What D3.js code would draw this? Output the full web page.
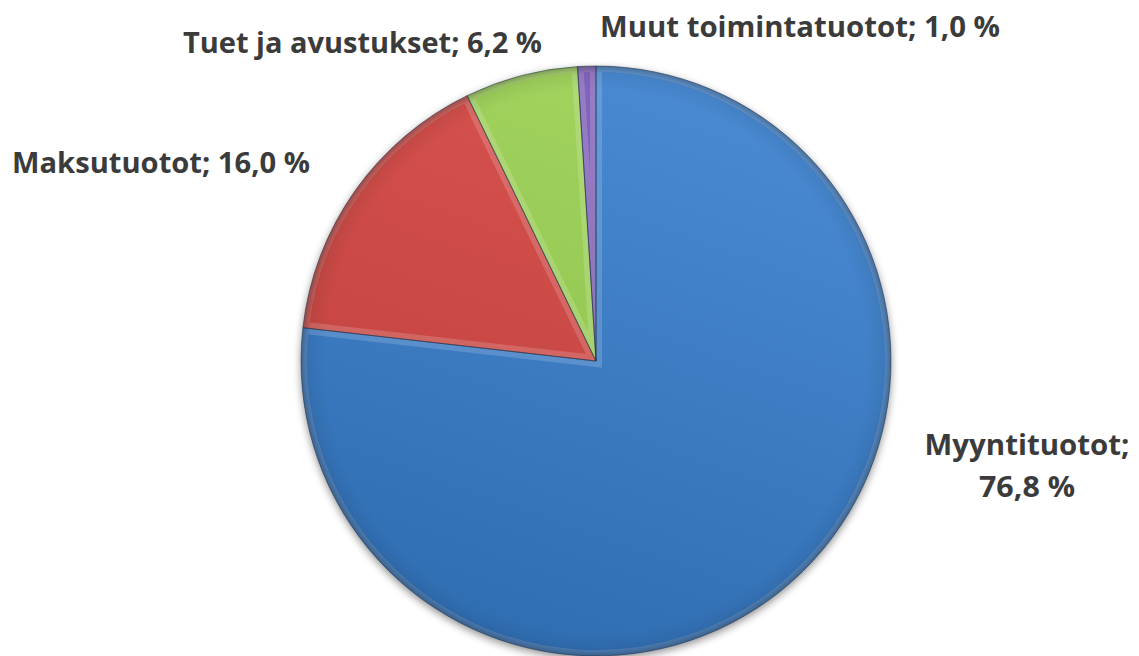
<!DOCTYPE html>
<html><head><meta charset="utf-8">
<script src="https://cdn.jsdelivr.net/npm/d3@7"></script>
<style>html,body{margin:0;padding:0;background:#fff;}svg{display:block;}</style>
</head><body>
<script>
const categories = ["Myyntituotot", "Maksutuotot", "Tuet ja avustukset", "Muut toimintatuotot"];
const values = [76.8, 16.0, 6.2, 1.0];
const labelTexts = [["Myyntituotot;", "76,8 %"], ["Maksutuotot; 16,0 %"], ["Tuet ja avustukset; 6,2 %"], ["Muut toimintatuotot; 1,0 %"]];
const colorsTop = ["#4a8bd4", "#d9534f", "#a3d55f", "#8566bf"];
const colorsBottom = ["#2f6db2", "#bd403d", "#88be48", "#6a4da0"];

const W = 1139, H = 656;
const cx = 596, cy = 361, R = 295;
const svg = d3.select("body").append("svg").attr("width", W).attr("height", H);
const defs = svg.append("defs");

const sh = defs.append("filter").attr("id", "shadow").attr("x", "-10%").attr("y", "-10%").attr("width", "120%").attr("height", "120%")
  .attr("color-interpolation-filters", "sRGB");
sh.append("feGaussianBlur").attr("in", "SourceAlpha").attr("stdDeviation", 4);
sh.append("feOffset").attr("dx", 0).attr("dy", 3).attr("result", "b");
sh.append("feComponentTransfer").append("feFuncA").attr("type", "linear").attr("slope", 0.45);
const fm = sh.append("feMerge"); fm.append("feMergeNode"); fm.append("feMergeNode").attr("in", "SourceGraphic");

categories.forEach((c, i) => {
  const g = defs.append("linearGradient").attr("id", "g" + i).attr("gradientUnits", "userSpaceOnUse")
    .attr("x1", R * 0.4).attr("y1", -R).attr("x2", -R * 0.3).attr("y2", R);
  g.append("stop").attr("offset", 0).attr("stop-color", colorsTop[i]);
  g.append("stop").attr("offset", 1).attr("stop-color", colorsBottom[i]);
});
const rim = defs.append("radialGradient").attr("id", "rim").attr("gradientUnits", "userSpaceOnUse")
  .attr("cx", 0).attr("cy", 0).attr("r", R);
rim.append("stop").attr("offset", 0.92).attr("stop-color", "#000").attr("stop-opacity", 0);
rim.append("stop").attr("offset", 0.975).attr("stop-color", "#000").attr("stop-opacity", 0.06);
rim.append("stop").attr("offset", 1).attr("stop-color", "#000").attr("stop-opacity", 0.28);

const pie = d3.pie().sort(null).startAngle(0).endAngle(2 * Math.PI);
const arcs = pie(values);
const arc = d3.arc().innerRadius(0).outerRadius(R);
arcs.forEach((d, i) => {
  defs.append("clipPath").attr("id", "c" + i).append("path").attr("d", arc(d));
});
const g = svg.append("g").attr("transform", `translate(${cx},${cy})`);
const sl = g.append("g").attr("filter", "url(#shadow)");
sl.selectAll("path.s").data(arcs).join("path").attr("class", "s")
  .attr("d", arc).attr("fill", (d, i) => `url(#g${i})`);
// bevel highlight along edges
g.selectAll("path.h").data(arcs).join("path").attr("class", "h")
  .attr("d", arc).attr("fill", "none")
  .attr("stroke", "#fff").attr("stroke-opacity", 0.16).attr("stroke-width", 12)
  .attr("clip-path", (d, i) => `url(#c${i})`);
g.append("circle").attr("r", R).attr("fill", "url(#rim)").attr("pointer-events", "none");
g.selectAll("path.o").data(arcs).join("path").attr("class", "o")
  .attr("d", arc).attr("fill", "none")
  .attr("stroke", "#1e2f4a").attr("stroke-opacity", 0.5).attr("stroke-width", 1);

// labels
const labelSpec = [
  { anchor: "middle", widths: [205, 96] },
  { anchor: "end", widths: [298] },
  { anchor: "end", widths: [359] },
  { anchor: "start", widths: [400] }
];
const fixedY = [[455, 497], [173], [53], [37]];
const fixedX = [1027, 310, 542, 600];
const lg = svg.append("g").attr("font-family", "'Open Sans', 'DejaVu Sans', sans-serif")
  .attr("font-weight", "bold").attr("font-size", 29).attr("fill", "#3b3b3b");
labelTexts.forEach((lines, i) => {
  lines.forEach((t, j) => {
    const w = labelSpec[i].widths[j];
    lg.append("text").attr("x", fixedX[i]).attr("y", fixedY[i][j])
      .attr("text-anchor", labelSpec[i].anchor)
      .attr("textLength", w).attr("lengthAdjust", "spacingAndGlyphs").text(t);
  });
});
</script>
</body></html>
